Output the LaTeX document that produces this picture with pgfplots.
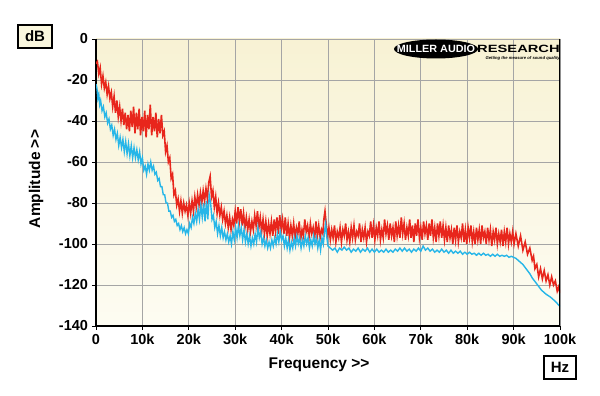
\documentclass[border=0pt]{standalone}
\usepackage{fontspec}
\setmainfont{Liberation Sans}
\usepackage{pgfplots}
\pgfplotsset{compat=1.18}
\definecolor{redline}{RGB}{232,38,28}
\definecolor{blueline}{RGB}{38,182,232}
\definecolor{bgtop}{RGB}{248,242,212}
\definecolor{bgbot}{RGB}{253,252,242}
\definecolor{gridgray}{RGB}{165,165,165}
\definecolor{boxfill}{RGB}{250,247,222}
\begin{document}
\begin{tikzpicture}[x=1pt,y=1pt]
\useasboundingbox (0,0) rectangle (600,396);
\begin{axis}[
  at={(96pt,70pt)}, anchor=south west,
  scale only axis, width=464pt, height=287pt,
  xmin=0, xmax=100, ymin=-140, ymax=0,
  axis lines*=left,
  axis line style={line width=1.6pt, black},
  xtick={0,10,...,100},
  xticklabels={0,10k,20k,30k,40k,50k,60k,70k,80k,90k,100k},
  ytick={-140,-120,...,0},
  tick align=outside, major tick length=4pt,
  tick style={black, line width=0.8pt},
  grid=major,
  major grid style={gridgray, line width=0.9pt},
  axis background/.style={top color=bgtop, bottom color=bgbot},
  /pgf/number format/assume math mode=true,
  ticklabel style={font=\fontsize{14.5}{16}\selectfont\bfseries},
  xticklabel style={yshift=-0.5pt},
  yticklabel style={xshift=-0.5pt},
  clip=true,
]
\addplot[redline, line width=1.6pt] coordinates {
(0.0,-12)(0.3,-11)(0.6,-17)(0.9,-14)(1.2,-22)(1.5,-18)(1.8,-24)(2.1,-21)(2.4,-27)(2.7,-23)
(3.0,-29)(3.3,-26)(3.6,-33)(3.9,-28)(4.2,-36)(4.5,-30)(4.8,-38)(5.1,-33)(5.4,-40)(5.7,-34)
(6.0,-42)(6.3,-36)(6.6,-44)(6.9,-37)(7.2,-45)(7.5,-35)(7.8,-43)(8.1,-33)(8.4,-46)(8.7,-36)
(9.0,-44)(9.3,-34)(9.6,-47)(9.9,-38)(10.2,-45)(10.5,-35)(10.8,-48)(11.1,-37)(11.4,-44)(11.7,-32)
(12.0,-47)(12.3,-38)(12.6,-45)(12.9,-36)(13.2,-48)(13.5,-39)(13.8,-46)(14.1,-37)(14.4,-47)(14.7,-45)
(15.0,-55)(15.3,-52)(15.6,-60)(15.9,-58)(16.2,-68)(16.5,-66)(16.8,-76)(17.1,-74)(17.4,-81)(17.7,-78)
(18.0,-84)(18.3,-79)(18.6,-85)(18.9,-80)(19.2,-84)(19.5,-81)(19.8,-86)(20.1,-80)(20.4,-85)(20.7,-79)
(21.0,-84)(21.3,-77)(21.6,-82)(21.9,-76)(22.2,-81)(22.5,-75)(22.8,-80)(23.1,-74)(23.4,-79)(23.7,-73)
(24.0,-78)(24.3,-70)(24.6,-67)(24.9,-77)(25.2,-74)(25.5,-82)(25.8,-77)(26.1,-85)(26.4,-80)(26.7,-86)
(27.0,-82)(27.3,-88)(27.6,-84)(27.9,-90)(28.2,-86)(28.5,-92)(28.8,-87)(29.1,-93)(29.4,-88)(29.7,-91)
(30.0,-84)(30.3,-90)(30.6,-82)(30.9,-89)(31.2,-83)(31.5,-91)(31.8,-85)(32.1,-92)(32.4,-87)(32.7,-93)
(33.0,-88)(33.3,-94)(33.6,-89)(33.9,-93)(34.2,-86)(34.5,-91)(34.8,-84)(35.1,-92)(35.4,-87)(35.7,-94)
(36.0,-88)(36.3,-95)(36.6,-89)(36.9,-96)(37.2,-90)(37.5,-95)(37.8,-89)(38.1,-96)(38.4,-88)(38.7,-94)
(39.0,-87)(39.3,-95)(39.6,-86)(39.9,-93)(40.2,-88)(40.5,-95)(40.8,-87)(41.1,-96)(41.4,-90)(41.7,-97)
(42.0,-91)(42.3,-96)(42.6,-90)(42.9,-97)(43.2,-92)(43.5,-95)(43.8,-89)(44.1,-98)(44.4,-93)(44.7,-96)
(45.0,-88)(45.3,-94)(45.6,-91)(45.9,-97)(46.2,-90)(46.5,-95)(46.8,-92)(47.1,-98)(47.4,-89)(47.7,-96)
(48.0,-91)(48.3,-97)(48.6,-93)(48.9,-95)(49.1,-88)(49.35,-84)(49.6,-90)(49.9,-96)(50.2,-92)(50.5,-98)
(50.8,-93)(51.1,-97)(51.4,-91)(51.7,-99)(52.0,-94)(52.3,-97)(52.6,-92)(52.9,-99)(53.2,-93)(53.5,-96)
(53.8,-90)(54.1,-98)(54.4,-94)(54.7,-99)(55.0,-92)(55.3,-97)(55.6,-91)(55.9,-98)(56.2,-94)(56.5,-96)
(56.8,-90)(57.1,-99)(57.4,-93)(57.7,-97)(58.0,-92)(58.3,-99)(58.6,-94)(58.9,-96)(59.2,-89)(59.5,-97)
(59.8,-91)(60.1,-98)(60.4,-92)(60.7,-96)(61.0,-89)(61.3,-98)(61.6,-93)(61.9,-97)(62.2,-88)(62.5,-95)
(62.8,-91)(63.1,-98)(63.4,-90)(63.7,-96)(64.0,-92)(64.3,-99)(64.6,-89)(64.9,-96)(65.2,-91)(65.5,-97)
(65.8,-87)(66.1,-95)(66.4,-90)(66.7,-98)(67.0,-92)(67.3,-96)(67.6,-88)(67.9,-97)(68.2,-91)(68.5,-99)
(68.8,-90)(69.1,-96)(69.4,-88)(69.7,-97)(70.0,-92)(70.3,-98)(70.6,-89)(70.9,-95)(71.2,-91)(71.5,-98)
(71.8,-90)(72.1,-96)(72.4,-88)(72.7,-97)(73.0,-92)(73.3,-99)(73.6,-90)(73.9,-96)(74.2,-89)(74.5,-97)
(74.8,-91)(75.1,-98)(75.4,-92)(75.7,-99)(76.0,-91)(76.3,-97)(76.6,-93)(76.9,-100)(77.2,-92)(77.5,-98)
(77.8,-91)(78.1,-99)(78.4,-94)(78.7,-97)(79.0,-90)(79.3,-99)(79.6,-93)(79.9,-100)(80.2,-92)(80.5,-97)
(80.8,-91)(81.1,-99)(81.4,-94)(81.7,-100)(82.0,-92)(82.3,-98)(82.6,-93)(82.9,-100)(83.2,-91)(83.5,-97)
(83.8,-94)(84.1,-100)(84.4,-92)(84.7,-98)(85.0,-93)(85.3,-101)(85.6,-94)(85.9,-98)(86.2,-92)(86.5,-100)
(86.8,-95)(87.1,-99)(87.4,-93)(87.7,-101)(88.0,-94)(88.3,-99)(88.6,-92)(88.9,-100)(89.2,-95)(89.5,-99)
(89.8,-94)(90.1,-100)(90.5,-95)(91.0,-101)(91.5,-96)(92.0,-103)(92.5,-99)(93.0,-105)(93.5,-102)(94.0,-108)
(94.3,-106)(94.6,-112)(95.0,-110)(95.4,-116)(95.8,-112)(96.2,-117)(96.6,-113)(97.0,-118)(97.4,-115)(97.8,-120)
(98.2,-116)(98.6,-120)(99.0,-118)(99.4,-123)(99.7,-121)(100,-124)
};
\addplot[blueline, line width=1.4pt] coordinates {
(0.0,-22)(0.2,-24)(0.4,-29)(0.6,-27)(0.8,-32)(1.0,-30)(1.3,-35)(1.6,-33)(1.9,-38)(2.2,-36)
(2.5,-41)(2.8,-39)(3.1,-44)(3.4,-42)(3.7,-47)(4.0,-44)(4.3,-49)(4.6,-46)(4.9,-52)(5.2,-48)
(5.5,-53)(5.8,-49)(6.1,-55)(6.4,-50)(6.7,-56)(7.0,-51)(7.3,-57)(7.6,-52)(7.9,-58)(8.2,-53)
(8.5,-58)(8.8,-54)(9.1,-59)(9.4,-55)(9.7,-61)(10.0,-58)(10.3,-64)(10.6,-62)(10.9,-66)(11.2,-61)
(11.5,-64)(11.8,-60)(12.1,-64)(12.4,-62)(12.7,-66)(13.0,-65)(13.3,-69)(13.6,-68)(13.9,-72)(14.2,-72)
(14.5,-76)(14.8,-76)(15.1,-80)(15.4,-80)(15.7,-84)(16.0,-84)(16.3,-87)(16.6,-86)(16.9,-89)(17.2,-88)
(17.5,-91)(17.8,-90)(18.1,-93)(18.4,-91)(18.7,-94)(19.0,-92)(19.3,-95)(19.6,-93)(19.9,-95)(20.2,-90)
(20.5,-92)(20.8,-87)(21.1,-90)(21.4,-85)(21.7,-89)(22.0,-83)(22.3,-88)(22.6,-81)(22.9,-87)(23.2,-80)
(23.5,-89)(23.8,-79)(24.1,-88)(24.4,-76)(24.7,-80)(25.0,-88)(25.3,-86)(25.6,-92)(25.9,-89)(26.2,-95)
(26.5,-91)(26.8,-96)(27.1,-92)(27.4,-97)(27.7,-94)(28.0,-98)(28.3,-95)(28.6,-99)(28.9,-96)(29.2,-100)
(29.5,-94)(29.8,-98)(30.1,-92)(30.4,-97)(30.7,-91)(31.0,-96)(31.3,-92)(31.6,-98)(31.9,-93)(32.2,-99)
(32.5,-95)(32.8,-100)(33.1,-96)(33.4,-101)(33.7,-97)(34.0,-100)(34.3,-95)(34.6,-99)(34.9,-92)(35.2,-97)
(35.5,-94)(35.8,-100)(36.1,-97)(36.4,-101)(36.7,-98)(37.0,-102)(37.3,-99)(37.6,-102)(37.9,-98)(38.2,-101)
(38.5,-97)(38.8,-100)(39.1,-95)(39.4,-99)(39.7,-94)(40.0,-98)(40.3,-96)(40.6,-101)(40.9,-97)(41.2,-102)
(41.5,-98)(41.8,-103)(42.1,-99)(42.4,-102)(42.7,-97)(43.0,-101)(43.3,-96)(43.6,-100)(43.9,-97)(44.2,-102)
(44.5,-98)(44.8,-101)(45.1,-96)(45.4,-100)(45.7,-97)(46.0,-102)(46.3,-98)(46.6,-101)(46.9,-96)(47.2,-100)
(47.5,-97)(47.8,-102)(48.1,-98)(48.4,-103)(48.7,-97)(49.0,-100)(49.3,-93)(49.5,-90)(49.7,-96)(50.0,-101)
(50.5,-102)(51.0,-103)(51.5,-102)(52.0,-104)(52.5,-102)(53.0,-103)(53.5,-101.5)(54.0,-103)
(54.5,-102)(55.0,-104)(55.5,-102.5)(56.0,-103.5)(56.5,-102)(57.0,-104)(57.5,-102.5)(58.0,-103.5)(58.5,-102)(59.0,-104)
(59.5,-102.5)(60.0,-104)(60.5,-102.5)(61.0,-104)(61.5,-103)(62.0,-104)(62.5,-102.5)(63.0,-104)(63.5,-103)(64.0,-104)
(64.5,-102.5)(65.0,-103.5)(65.5,-102)(66.0,-103.5)(66.5,-102)(67.0,-103.5)(67.5,-102.5)(68.0,-104)(68.5,-102.5)(69.0,-103.5)
(69.5,-102)(70.0,-103.5)(70.5,-101)(71.0,-103)(71.5,-102)(72.0,-103.5)(72.5,-102.5)(73.0,-104)(73.5,-103)(74.0,-104)
(74.5,-102.5)(75.0,-104)(75.5,-103)(76.0,-104.5)(76.5,-103)(77.0,-104.5)(77.5,-103.5)(78.0,-104.5)(78.5,-103.5)(79.0,-105)
(79.5,-104)(80.0,-105)(80.5,-104)(81.0,-105)(81.5,-104.5)(82.0,-105.5)(82.5,-104.5)(83.0,-105.5)(83.5,-104.5)(84.0,-105.5)
(84.5,-105)(85.0,-106)(85.5,-105)(86.0,-106)(86.5,-105)(87.0,-106)(87.5,-105.5)(88.0,-106)(88.5,-105.5)(89.0,-106.5)
(89.5,-106)(90.0,-106.5)(90.5,-107)(91.0,-108)(91.5,-109)(92.0,-110)(92.5,-111.5)(93.0,-113)(93.5,-114.5)(94.0,-116.5)
(94.5,-118)(95.0,-119.5)(95.5,-121)(96.0,-122.5)(96.5,-123.5)(97.0,-124.5)(98.0,-126)(99.0,-128)(100,-130.5)
};
\draw[black, line width=1.2pt] (rel axis cs:1,0) -- (rel axis cs:1,1);
\end{axis}
% axis labels
\node[font=\fontsize{15.5}{18}\selectfont\bfseries, inner sep=0pt] at (319,31) {Frequency >{}>};
\node[font=\fontsize{15.5}{18}\selectfont\bfseries, inner sep=0pt, rotate=90] at (36,217) {Amplitude >{}>};
% dB and Hz boxes
\node[draw=black, line width=1.3pt, fill=boxfill, minimum width=34pt, minimum height=23pt, inner sep=0pt,
  font=\fontsize{15}{17}\selectfont\bfseries] at (35,359.5) {dB};
\node[draw=black, line width=1.3pt, fill=white, minimum width=32pt, minimum height=23pt, inner sep=0pt,
  font=\fontsize{15}{17}\selectfont\bfseries] at (560,28.5) {Hz};
% logo
\fill[black] (436,347) ellipse [x radius=42, y radius=9.5];
\node[white, font=\fontsize{10.5}{12}\selectfont\bfseries, inner sep=0pt, xscale=1.03] at (436,347) {MILLER AUDIO};
\node[black, font=\fontsize{10.5}{12}\selectfont\bfseries, inner sep=0pt, xscale=1.4, anchor=east] at (560,347) {RESEARCH};
\node[black, font=\fontsize{4.2}{5}\selectfont\bfseries\itshape, inner sep=0pt, anchor=east] at (560,337.5) {Getting the measure of sound quality};
\end{tikzpicture}
\end{document}
